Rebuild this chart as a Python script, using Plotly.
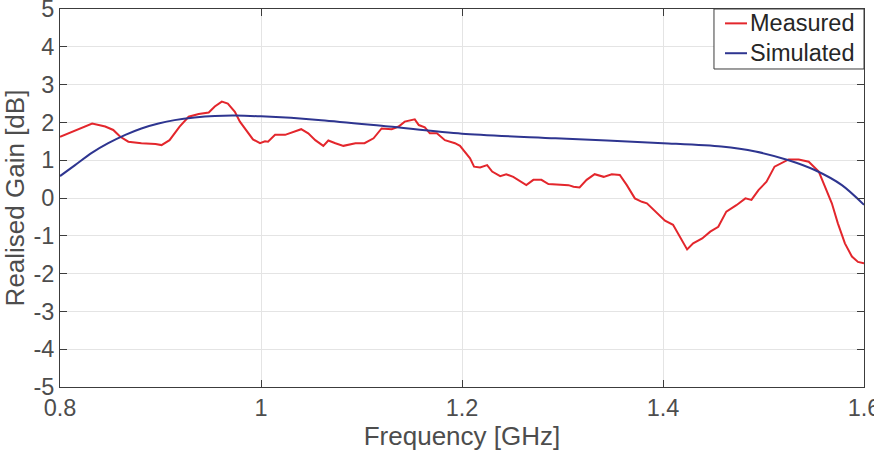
import plotly.graph_objects as go

meas_freq = [0.800, 0.807, 0.832, 0.845, 0.853, 0.860, 0.868, 0.881, 0.895, 0.901, 0.909, 0.919,
             0.928, 0.938, 0.948, 0.954, 0.961, 0.967, 0.974, 0.979, 0.986, 0.992, 0.999, 1.004,
             1.007, 1.014, 1.024, 1.031, 1.040, 1.047, 1.054, 1.062, 1.067, 1.074, 1.082, 1.094,
             1.103, 1.112, 1.120, 1.130, 1.137, 1.143, 1.153, 1.157, 1.163, 1.168, 1.175, 1.183,
             1.193, 1.198, 1.203, 1.208, 1.212, 1.218, 1.225, 1.230, 1.238, 1.244, 1.251, 1.258,
             1.264, 1.271, 1.279, 1.286, 1.299, 1.306, 1.311, 1.317, 1.324, 1.332, 1.341, 1.349,
             1.357, 1.364, 1.372, 1.379, 1.384, 1.392, 1.402, 1.410, 1.417, 1.424, 1.430, 1.439,
             1.447, 1.455, 1.463, 1.473, 1.482, 1.488, 1.495, 1.503, 1.511, 1.520, 1.525, 1.535,
             1.545, 1.555, 1.561, 1.568, 1.574, 1.581, 1.588, 1.594, 1.600]
meas_gain = [1.62, 1.70, 1.97, 1.89, 1.80, 1.62, 1.49, 1.45, 1.43, 1.40, 1.53, 1.89,
             2.15, 2.22, 2.26, 2.42, 2.55, 2.50, 2.28, 2.02, 1.75, 1.55, 1.45, 1.50,
             1.49, 1.67, 1.67, 1.73, 1.82, 1.71, 1.53, 1.38, 1.52, 1.45, 1.38, 1.45,
             1.45, 1.58, 1.84, 1.82, 1.89, 2.02, 2.08, 1.93, 1.87, 1.71, 1.71, 1.53,
             1.45, 1.38, 1.20, 1.05, 0.83, 0.81, 0.87, 0.70, 0.58, 0.63, 0.56, 0.43,
             0.34, 0.48, 0.48, 0.37, 0.34, 0.34, 0.30, 0.28, 0.48, 0.63, 0.56, 0.63,
             0.61, 0.34, -0.01, -0.10, -0.14, -0.34, -0.60, -0.71, -1.02, -1.36, -1.20, -1.07,
             -0.89, -0.76, -0.36, -0.19, -0.01, -0.05, 0.21, 0.43, 0.83, 0.96, 1.02, 1.02,
             0.96, 0.70, 0.30, -0.14, -0.67, -1.20, -1.55, -1.69, -1.73]

sim_freq = [0.800, 0.815, 0.832, 0.848, 0.865, 0.881, 0.898, 0.914, 0.934, 0.954, 0.974,
            1.000, 1.060, 1.127, 1.200, 1.293, 1.400, 1.458, 1.492, 1.525, 1.551, 1.578, 1.600]
sim_gain = [0.58, 0.87, 1.20, 1.45, 1.67, 1.84, 1.97, 2.06, 2.13, 2.17, 2.18,
            2.16, 2.06, 1.89, 1.70, 1.58, 1.45, 1.36, 1.23, 1.00, 0.74, 0.34, -0.18]

series_names = ["Measured", "Simulated"]
series_colors = ["#e3262c", "#2e3590"]

x_ticks = [0.8, 1.0, 1.2, 1.4, 1.6]
x_tick_labels = ["0.8", "1", "1.2", "1.4", "1.6"]
y_ticks = [-5, -4, -3, -2, -1, 0, 1, 2, 3, 4, 5]
y_tick_labels = ["-5", "-4", "-3", "-2", "-1", "0", "1", "2", "3", "4", "5"]

TXT = "#4d4d4d"
AX = "#3c3c3c"
FONT = "Liberation Sans, Arial, Helvetica, sans-serif"

fig = go.Figure()
fig.add_trace(go.Scatter(x=meas_freq, y=meas_gain, mode="lines", name=series_names[0],
                         line=dict(color=series_colors[0], width=2)))
fig.add_trace(go.Scatter(x=sim_freq, y=sim_gain, mode="lines", name=series_names[1],
                         line=dict(color=series_colors[1], width=2, shape="spline", smoothing=0.8)))

axis_common = dict(showline=True, linecolor=AX, linewidth=1, mirror="ticks",
                   ticks="inside", ticklen=7, tickcolor=AX, tickwidth=1,
                   showgrid=True, gridcolor="#e4e4e4", gridwidth=1, zeroline=False,
                   ticklabeloverflow="allow", automargin=False,
                   tickfont=dict(family=FONT, size=23.5, color=TXT))

fig.update_xaxes(range=[0.8, 1.6], tickvals=x_ticks, ticktext=x_tick_labels,
                 title=dict(text="Frequency [GHz]", font=dict(family=FONT, size=26, color=TXT), standoff=4),
                 **axis_common)
fig.update_yaxes(range=[-5, 5], tickvals=y_ticks, ticktext=y_tick_labels,
                 title=dict(text="Realised Gain [dB]", font=dict(family=FONT, size=26, color=TXT), standoff=4),
                 **axis_common)

# MATLAB-style compact legend box (paper coordinates)
fig.add_shape(type="rect", xref="paper", yref="paper", x0=0.8134, x1=1.0, y0=0.8413, y1=1.0,
              line=dict(color=AX, width=1), fillcolor="white", layer="above")
leg_y = [0.962, 0.883]
for name, color, yy in zip(series_names, series_colors, leg_y):
    fig.add_shape(type="line", xref="paper", yref="paper", x0=0.8271, x1=0.8545, y0=yy, y1=yy,
                  line=dict(color=color, width=2), layer="above")
    fig.add_annotation(xref="paper", yref="paper", x=0.856, y=yy, text=name, showarrow=False,
                       xanchor="left", yanchor="middle",
                       font=dict(family=FONT, size=23.5, color="#262626"))

fig.update_layout(
    width=874, height=458,
    margin=dict(l=60, r=10, t=9, b=71),
    paper_bgcolor="white", plot_bgcolor="white",
    font=dict(family=FONT, color=TXT),
    showlegend=False,
)

fig.write_html("out.html")
